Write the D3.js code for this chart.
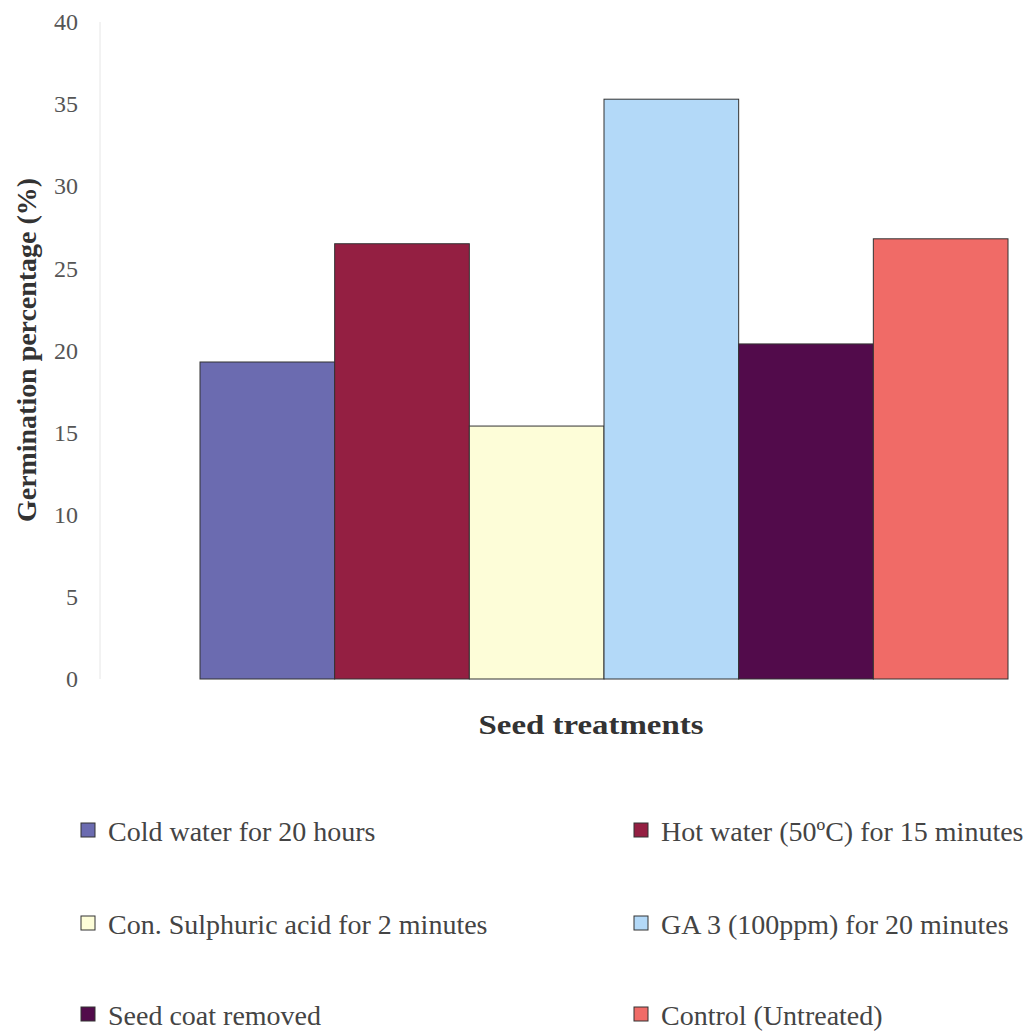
<!DOCTYPE html>
<html>
<head>
<meta charset="utf-8">
<script src="https://cdn.jsdelivr.net/npm/d3@7"></script>
<style>
  html, body { margin: 0; padding: 0; background: #fff; }
  svg { display: block; font-family: "Liberation Serif", "Times New Roman", serif; }
</style>
</head>
<body>
<svg id="chart" width="1035" height="1033"></svg>
<script>
// Germination percentage by seed treatment
const treatments = [
  "Cold water for 20 hours",
  "Hot water (50ºC) for 15 minutes",
  "Con. Sulphuric acid for 2 minutes",
  "GA 3 (100ppm) for 20 minutes",
  "Seed coat removed",
  "Control (Untreated)"
];
const germination = [19.3, 26.5, 15.4, 35.3, 20.4, 26.8];
const barColors = ["#6b6bb0", "#941f42", "#fdfdd8", "#b3d9f8", "#520b4b", "#f06b67"];
const yTicks = [0, 5, 10, 15, 20, 25, 30, 35, 40];

const svg = d3.select("#chart");

const y = d3.scaleLinear().domain([0, 40]).range([679, 22]);
const x = d3.scaleBand().domain(treatments).range([200, 1008]).paddingInner(0);

// faint value axis line
svg.append("line")
  .attr("x1", 100).attr("x2", 100)
  .attr("y1", y(40)).attr("y2", y(0))
  .attr("stroke", "#e6e6e6").attr("stroke-width", 1);

// tick labels
const yAxis = d3.axisLeft(y).tickValues(yTicks).tickSize(0).tickPadding(0);
const gy = svg.append("g").attr("transform", "translate(78,0)").call(yAxis);
gy.select(".domain").remove();
gy.selectAll("text")
  .attr("font-family", "Liberation Serif, serif")
  .attr("font-size", 24)
  .attr("fill", "#555");

// bars
svg.append("g").selectAll("rect")
  .data(treatments)
  .join("rect")
  .attr("x", d => x(d))
  .attr("y", (d, i) => y(germination[i]))
  .attr("width", x.bandwidth())
  .attr("height", (d, i) => y(0) - y(germination[i]))
  .attr("fill", (d, i) => barColors[i])
  .attr("stroke", "#333")
  .attr("stroke-width", 1);

// axis titles
svg.append("text")
  .attr("transform", `translate(36,350) rotate(-90)`)
  .attr("text-anchor", "middle")
  .attr("font-size", 28)
  .attr("font-weight", "bold")
  .attr("fill", "#333")
  .attr("textLength", 344)
  .attr("lengthAdjust", "spacingAndGlyphs")
  .text("Germination percentage (%)");

svg.append("text")
  .attr("x", 591).attr("y", 734)
  .attr("text-anchor", "middle")
  .attr("font-size", 27)
  .attr("font-weight", "bold")
  .attr("fill", "#333")
  .attr("textLength", 225)
  .attr("lengthAdjust", "spacingAndGlyphs")
  .text("Seed treatments");

// legend, two columns, three rows
const legendCols = [81, 634];
const legendRows = [831, 924, 1015];
const legend = svg.append("g").selectAll("g")
  .data(treatments)
  .join("g")
  .attr("transform", (d, i) => `translate(${legendCols[i % 2]},${legendRows[Math.floor(i / 2)]})`);

legend.append("rect")
  .attr("x", 0).attr("y", -8)
  .attr("width", 14).attr("height", 14)
  .attr("fill", (d, i) => barColors[i])
  .attr("stroke", "#333").attr("stroke-width", 1);

legend.append("text")
  .attr("x", 27).attr("y", 0)
  .attr("dy", "0.35em")
  .attr("font-size", 28)
  .attr("fill", "#444")
  .text(d => d);
</script>
</body>
</html>
